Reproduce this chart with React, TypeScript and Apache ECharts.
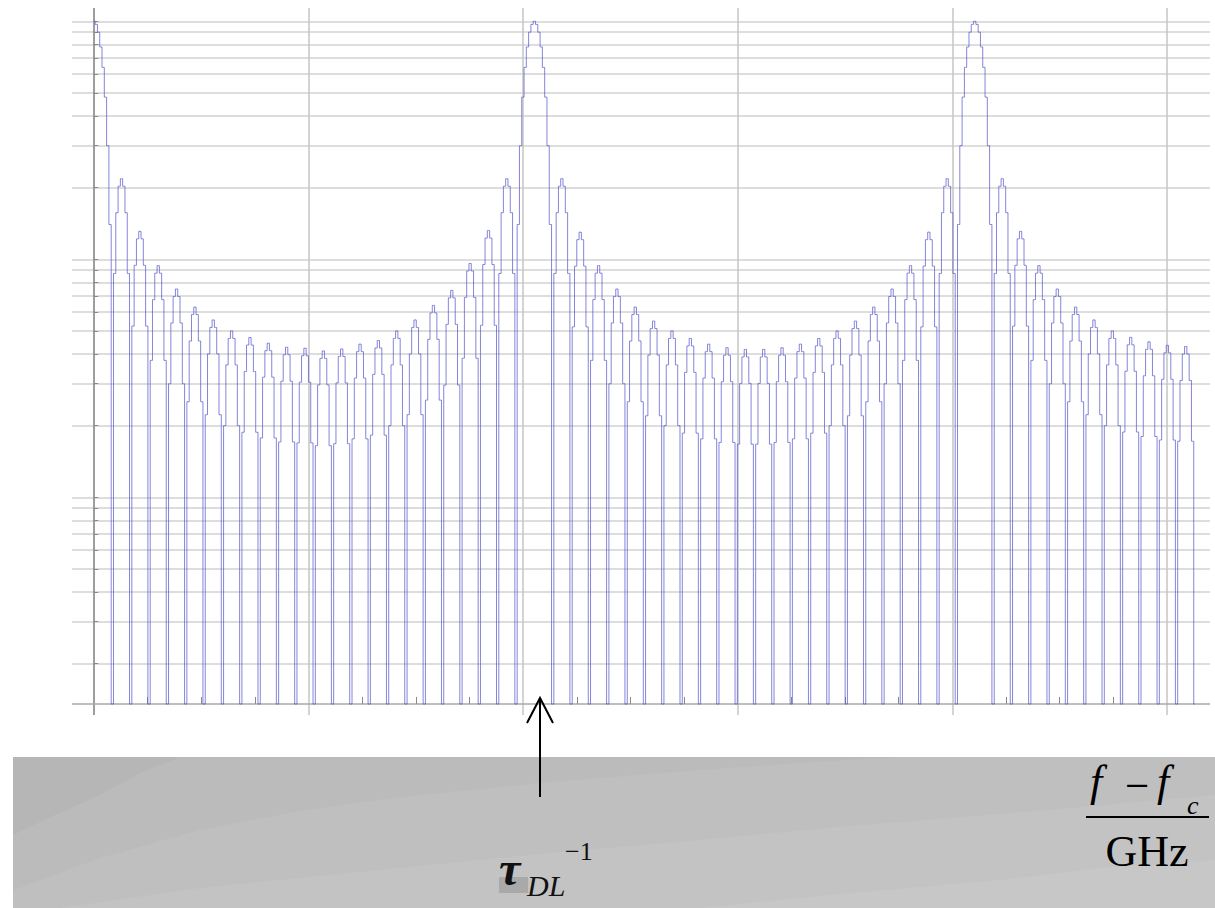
import React, { useEffect, useRef } from "react";
import * as echarts from "echarts";

// ---- axes ----------------------------------------------------------------
// frequency offset axis, one grid division per unit
const xRange = [-0.1025, 5.2004];
const xGridLines = [1, 2, 3, 4, 5];
const xMinorTicks = [0.25, 0.5, 0.75, 1.25, 1.5, 1.75, 2.25, 2.5, 2.75, 3.25, 3.5, 3.75, 4.25, 4.5, 4.75];
// logarithmic amplitude axis
const yRange = [0.012168, 11.37];
const floorLevel = 0.01353; // frame bottom, where the spectral nulls are drawn
const minorTickTop = 0.01449;
const yGridLines = [
  0.02, 0.03, 0.04, 0.05, 0.06, 0.07, 0.08, 0.09,
  0.1, 0.2, 0.3, 0.4, 0.5, 0.6, 0.7, 0.8, 0.9,
  1, 2, 3, 4, 5, 6, 7, 8, 9, 10,
];

// ---- spectrum ------------------------------------------------------------
const mainPeakPositions = [0, 2.052, 4.104];
const lobesPerPeriod = 24;
const samplesPerLobe = 8;
// main lobe amplitude, from the centre outwards
const mainLobe = [10, 9.7, 9.0, 7.8, 6.4, 4.8, 3.0, 1.4];
// side lobe samples relative to the lobe maximum
const sideLobeShape = [0.4, 0.72, 0.93, 1, 0.93, 0.72, 0.4];
// side lobe maxima after each main peak
const sideLobesA = [2.18, 1.31, 0.94, 0.75, 0.63, 0.556, 0.5, 0.469, 0.444, 0.427, 0.423, 0.412, 0.42, 0.44, 0.456, 0.5, 0.556, 0.64, 0.74, 0.96, 1.32, 2.18];
const sideLobesB = [2.18, 1.3, 0.94, 0.75, 0.63, 0.55, 0.5, 0.465, 0.44, 0.425, 0.418, 0.418, 0.425, 0.44, 0.465, 0.5, 0.55, 0.63, 0.75, 0.94, 1.3, 2.18];
const sideLobesC = [2.18, 1.31, 0.94, 0.75, 0.63, 0.556, 0.5, 0.47, 0.45, 0.435, 0.43];

function buildSpectrum(): [number, number][] {
  const dx = (mainPeakPositions[1] - mainPeakPositions[0]) / (lobesPerPeriod * samplesPerLobe);
  const pts: [number, number][] = [];
  const groups = [sideLobesA, sideLobesB, sideLobesC];
  mainPeakPositions.forEach((p, gi) => {
    // main lobe (left half skipped for the peak at the origin)
    if (gi > 0) {
      for (let j = samplesPerLobe - 1; j >= 1; j--) pts.push([p - j * dx, mainLobe[j]]);
    }
    for (let j = 0; j < samplesPerLobe; j++) pts.push([p + j * dx, mainLobe[j]]);
    pts.push([p + samplesPerLobe * dx, floorLevel]);
    // side lobes up to the next main lobe
    groups[gi].forEach((peak, m) => {
      const start = p + (m + 1) * samplesPerLobe * dx;
      sideLobeShape.forEach((r, k) => pts.push([start + (k + 1) * dx, peak * r]));
      pts.push([start + samplesPerLobe * dx, floorLevel]);
    });
  });
  return pts;
}

function markSeries(name: string, data: any[], lineStyle: any, z: number) {
  return {
    type: "line",
    name,
    data: [],
    silent: true,
    z,
    markLine: {
      silent: true,
      animation: false,
      precision: 8,
      symbol: ["none", "none"],
      label: { show: false },
      emphasis: { disabled: true },
      lineStyle: { type: "solid", ...lineStyle },
      data,
    },
  };
}

export default function App() {
  const ref = useRef<HTMLDivElement>(null);

  useEffect(() => {
    if (!ref.current) return;
    const chart = echarts.init(ref.current, null, { renderer: "svg" });
    const spectrum = buildSpectrum();

    const hGrid = yGridLines.map((v) => ({ yAxis: v }));
    const vGrid = xGridLines.map((v) => ({ xAxis: v }));
    const yTicks = yGridLines.map((v) => [{ coord: [0, v] }, { coord: [0.02, v] }]);
    const xTicks = xMinorTicks.map((v) => [{ coord: [v, floorLevel] }, { coord: [v, minorTickTop] }]);

    const serif = "'Liberation Serif', 'Times New Roman', serif";

    chart.setOption({
      animation: false,
      grid: { left: 72, right: 5, top: 8, bottom: 193, containLabel: false },
      xAxis: {
        type: "value",
        min: xRange[0],
        max: xRange[1],
        axisLine: { show: false, onZero: false },
        axisTick: { show: false },
        axisLabel: { show: false },
        splitLine: { show: false },
      },
      yAxis: {
        type: "log",
        logBase: 10,
        min: yRange[0],
        max: yRange[1],
        axisLine: { show: false },
        axisTick: { show: false },
        axisLabel: { show: false },
        splitLine: { show: false },
      },
      series: [
        markSeries("hgrid", hGrid, { color: "#d2d2d2", width: 1.5 }, 1),
        markSeries("vgrid", vGrid, { color: "#c4c4c4", width: 1.5 }, 1),
        markSeries("frame-y", [{ xAxis: 0 }], { color: "#7c7c7c", width: 1.5 }, 2),
        markSeries("frame-x", [{ yAxis: floorLevel }], { color: "#a8a8a8", width: 1.5 }, 2),
        markSeries("ticks", [...yTicks, ...xTicks], { color: "#8a8a8a", width: 1 }, 2),
        {
          type: "line",
          name: "spectrum",
          data: spectrum,
          step: "middle",
          showSymbol: false,
          symbol: "none",
          silent: true,
          clip: false,
          z: 5,
          lineStyle: { color: "rgba(92, 92, 205, 0.75)", width: 1 },
        },
      ],
      graphic: {
        elements: [
          // lower panel with soft shading bands
          { type: "rect", z: 10, shape: { x: 13, y: 757, width: 1202, height: 151 }, style: { fill: "#c7c7c7" } },
          {
            type: "polygon", z: 11,
            shape: { points: [[13, 757], [1215, 757], [1215, 860], [1100, 868], [1000, 880], [850, 893], [700, 908], [13, 908]] },
            style: { fill: "#c3c3c3" },
          },
          {
            type: "polygon", z: 12,
            shape: { points: [[13, 757], [1215, 757], [1215, 795], [1050, 810], [850, 826], [700, 840], [550, 853], [400, 868], [200, 888], [60, 908], [13, 908]] },
            style: { fill: "#bfbfbf" },
          },
          {
            type: "polygon", z: 13,
            shape: { points: [[13, 757], [900, 757], [800, 763], [700, 770], [550, 782], [400, 797], [300, 811], [200, 830], [100, 858], [13, 890]] },
            style: { fill: "#bbbbbb" },
          },
          {
            type: "polygon", z: 14,
            shape: { points: [[13, 757], [180, 757], [140, 773], [100, 795], [55, 815], [13, 835]] },
            style: { fill: "#b6b6b6" },
          },
          // marker arrow
          { type: "line", z: 20, shape: { x1: 540, y1: 797, x2: 540, y2: 699 }, style: { stroke: "#000", lineWidth: 2 } },
          {
            type: "polyline", z: 20,
            shape: { points: [[527, 723], [540, 698], [553, 723]] },
            style: { stroke: "#000", lineWidth: 2, fill: null },
          },
          // tau_DL^-1
          { type: "rect", z: 19, shape: { x: 499, y: 877, width: 29, height: 16 }, style: { fill: "#a9a9a9" } },
          {
            type: "text", z: 21,
            style: { text: "τ", x: 499, y: 868, fontSize: 48, fontFamily: serif, fontWeight: "bold", fontStyle: "italic", fill: "#111", align: "left", verticalAlign: "middle" },
          },
          {
            type: "text", z: 21,
            style: { text: "DL", x: 527, y: 885, fontSize: 30, fontFamily: serif, fontStyle: "italic", fill: "#111", align: "left", verticalAlign: "middle" },
          },
          {
            type: "text", z: 21,
            style: { text: "−1", x: 565, y: 851, fontSize: 26, fontFamily: serif, fill: "#111", align: "left", verticalAlign: "middle" },
          },
          // (f - f_c) / GHz
          {
            type: "text", z: 21,
            style: { text: "f", x: 1090, y: 781, fontSize: 44, fontFamily: serif, fontStyle: "italic", fill: "#000", align: "left", verticalAlign: "middle" },
          },
          {
            type: "text", z: 21,
            style: { text: "−", x: 1125, y: 785, fontSize: 43, fontFamily: serif, fill: "#000", align: "left", verticalAlign: "middle" },
          },
          {
            type: "text", z: 21,
            style: { text: "f", x: 1157, y: 781, fontSize: 44, fontFamily: serif, fontStyle: "italic", fill: "#000", align: "left", verticalAlign: "middle" },
          },
          {
            type: "text", z: 21,
            style: { text: "c", x: 1187, y: 805, fontSize: 26, fontFamily: serif, fontStyle: "italic", fill: "#000", align: "left", verticalAlign: "middle" },
          },
          { type: "rect", z: 21, shape: { x: 1086, y: 816, width: 123, height: 2 }, style: { fill: "#000" } },
          {
            type: "text", z: 21,
            style: { text: "GHz", x: 1147, y: 851, fontSize: 44, fontFamily: serif, fill: "#000", align: "center", verticalAlign: "middle" },
          },
        ],
      },
    });
    return () => chart.dispose();
  }, []);

  return (
    <div
      ref={ref}
      style={{ position: "fixed", left: 0, top: 0, width: 1215, height: 908, background: "#fff" }}
    />
  );
}
